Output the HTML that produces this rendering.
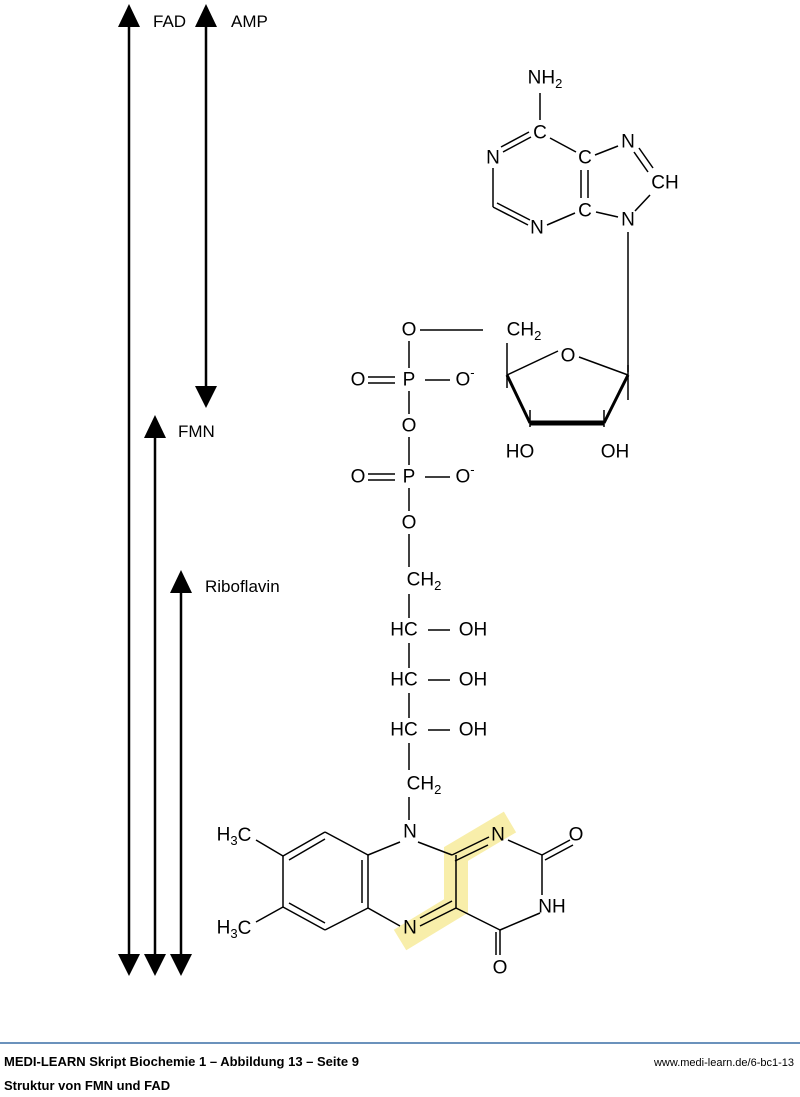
<!DOCTYPE html>
<html><head><meta charset="utf-8"><style>
html,body{margin:0;padding:0;background:#fff;}
svg{display:block;}
text{font-family:"Liberation Sans",Arial,sans-serif;fill:#000;}
.c{font-size:19px;text-anchor:middle;dominant-baseline:central;}
.l{font-size:17px;}
</style></head><body>
<svg width="800" height="1097" viewBox="0 0 800 1097" xmlns="http://www.w3.org/2000/svg">
<!-- highlight -->
<polyline points="400,940 456,906 456,854 510,822" fill="none" stroke="#f8eeaa" stroke-width="24" stroke-linejoin="miter"/>
<g stroke="#000" stroke-width="2.5" fill="none">
<line x1="129" y1="25" x2="129" y2="958"/>
<line x1="206" y1="25" x2="206" y2="388"/>
<line x1="155" y1="435" x2="155" y2="958"/>
<line x1="181" y1="590" x2="181" y2="958"/>
</g>
<g fill="#000">
<polygon points="129,4 118,27 140,27"/>
<polygon points="206,4 195,27 217,27"/>
<polygon points="206,408 195,386 217,386"/>
<polygon points="155,415 144,438 166,438"/>
<polygon points="181,570 170,593 192,593"/>
<polygon points="129,976 118,954 140,954"/>
<polygon points="155,976 144,954 166,954"/>
<polygon points="181,976 170,954 192,954"/>
</g>
<text class="l" x="153" y="27">FAD</text>
<text class="l" x="231" y="27">AMP</text>
<text class="l" x="178" y="437">FMN</text>
<text class="l" x="205" y="592">Riboflavin</text>

<g stroke="#000" stroke-width="1.5" fill="none">
<!-- adenine -->
<line x1="540" y1="93" x2="540" y2="120"/>
<line x1="531" y1="137" x2="503" y2="152"/><line x1="529" y1="132" x2="501" y2="147"/>
<line x1="493" y1="168" x2="493" y2="207"/>
<line x1="493" y1="207" x2="528" y2="225"/><line x1="497" y1="203" x2="530" y2="220"/>
<line x1="547" y1="225" x2="575" y2="213"/>
<line x1="581" y1="170" x2="581" y2="198"/><line x1="588" y1="170" x2="588" y2="198"/>
<line x1="550" y1="138" x2="576" y2="152"/>
<line x1="595" y1="155" x2="618" y2="146"/>
<line x1="634" y1="152" x2="648" y2="172"/><line x1="639" y1="148" x2="653" y2="168"/>
<line x1="650" y1="195" x2="635" y2="211"/>
<line x1="596" y1="212" x2="618" y2="217"/>
<line x1="628" y1="232" x2="628" y2="372"/>
<!-- ribose -->
<line x1="420" y1="330" x2="483" y2="330"/>
<line x1="507" y1="343" x2="507" y2="388"/>
<line x1="507" y1="375" x2="558" y2="351"/>
<line x1="579" y1="357" x2="628" y2="375"/>
<line x1="628" y1="365" x2="628" y2="400"/>
<line x1="530" y1="410" x2="530" y2="427"/>
<line x1="604" y1="410" x2="604" y2="427"/>
<!-- phosphates -->
<line x1="409" y1="341" x2="409" y2="368"/>
<line x1="409" y1="391" x2="409" y2="414"/>
<line x1="409" y1="437" x2="409" y2="465"/>
<line x1="409" y1="488" x2="409" y2="511"/>
<line x1="409" y1="534" x2="409" y2="567"/>
<line x1="368" y1="377" x2="395" y2="377"/><line x1="368" y1="383" x2="395" y2="383"/>
<line x1="368" y1="474" x2="395" y2="474"/><line x1="368" y1="480" x2="395" y2="480"/>
<line x1="425" y1="380" x2="450" y2="380"/>
<line x1="425" y1="477" x2="450" y2="477"/>
<!-- chain -->
<line x1="409" y1="594" x2="409" y2="618"/>
<line x1="409" y1="643" x2="409" y2="668"/>
<line x1="409" y1="693" x2="409" y2="718"/>
<line x1="409" y1="743" x2="409" y2="770"/>
<line x1="409" y1="797" x2="409" y2="820"/>
<line x1="428" y1="630" x2="450" y2="630"/>
<line x1="428" y1="680" x2="450" y2="680"/>
<line x1="428" y1="730" x2="450" y2="730"/>
<!-- flavin -->
<line x1="418" y1="842" x2="452" y2="855"/>
<line x1="452" y1="855" x2="489" y2="837"/><line x1="455" y1="861" x2="488" y2="845"/>
<line x1="508" y1="840" x2="542" y2="855"/>
<line x1="542" y1="855" x2="570" y2="840"/><line x1="545" y1="860" x2="573" y2="845"/>
<line x1="542" y1="855" x2="542" y2="895"/>
<line x1="540" y1="913" x2="500" y2="930"/>
<line x1="500" y1="930" x2="500" y2="955"/><line x1="496" y1="932" x2="496" y2="955"/>
<line x1="500" y1="930" x2="456" y2="908"/>
<line x1="456" y1="855" x2="456" y2="908"/>
<line x1="456" y1="908" x2="420" y2="926"/><line x1="452" y1="901" x2="420" y2="918"/>
<line x1="400" y1="926" x2="368" y2="908"/>
<line x1="400" y1="842" x2="368" y2="855"/>
<line x1="368" y1="855" x2="368" y2="908"/><line x1="362" y1="860" x2="362" y2="903"/>
<line x1="368" y1="855" x2="325" y2="832"/>
<line x1="325" y1="832" x2="283" y2="856"/><line x1="325" y1="839" x2="289" y2="860"/>
<line x1="283" y1="856" x2="283" y2="907"/>
<line x1="283" y1="907" x2="325" y2="930"/><line x1="289" y1="903" x2="325" y2="923"/>
<line x1="325" y1="930" x2="368" y2="908"/>
<line x1="283" y1="856" x2="256" y2="840"/>
<line x1="283" y1="907" x2="256" y2="922"/>
</g>
<line x1="530" y1="423" x2="604" y2="423" stroke="#000" stroke-width="5"/>
<line x1="507" y1="375" x2="530" y2="423" stroke="#000" stroke-width="3"/>
<line x1="628" y1="375" x2="604" y2="423" stroke="#000" stroke-width="3"/>

<g class="c">
<text class="c" x="545" y="78">NH<tspan font-size="13" dy="5">2</tspan></text>
<text class="c" x="540" y="133">C</text>
<text class="c" x="493" y="158">N</text>
<text class="c" x="585" y="158">C</text>
<text class="c" x="628" y="142">N</text>
<text class="c" x="665" y="183">CH</text>
<text class="c" x="585" y="211">C</text>
<text class="c" x="628" y="220">N</text>
<text class="c" x="537" y="228">N</text>
<text class="c" x="524" y="330">CH<tspan font-size="13" dy="5">2</tspan></text>
<text class="c" x="568" y="356">O</text>
<text class="c" x="520" y="452">HO</text>
<text class="c" x="615" y="452">OH</text>
<text class="c" x="409" y="330">O</text>
<text class="c" x="409" y="380">P</text>
<text class="c" x="358" y="380">O</text>
<text class="c" x="465" y="380">O<tspan font-size="13" dy="-8">-</tspan></text>
<text class="c" x="409" y="426">O</text>
<text class="c" x="409" y="477">P</text>
<text class="c" x="358" y="477">O</text>
<text class="c" x="465" y="477">O<tspan font-size="13" dy="-8">-</tspan></text>
<text class="c" x="409" y="523">O</text>
<text class="c" x="424" y="580">CH<tspan font-size="13" dy="5">2</tspan></text>
<text class="c" x="404" y="630">HC</text><text class="c" x="473" y="630">OH</text>
<text class="c" x="404" y="680">HC</text><text class="c" x="473" y="680">OH</text>
<text class="c" x="404" y="730">HC</text><text class="c" x="473" y="730">OH</text>
<text class="c" x="424" y="784">CH<tspan font-size="13" dy="5">2</tspan></text>
<text class="c" x="410" y="832">N</text>
<text class="c" x="498" y="835">N</text>
<text class="c" x="576" y="835">O</text>
<text class="c" x="552" y="907">NH</text>
<text class="c" x="500" y="968">O</text>
<text class="c" x="410" y="928">N</text>
<text class="c" x="234" y="835">H<tspan font-size="13" dy="5">3</tspan><tspan dy="-5">C</tspan></text>
<text class="c" x="234" y="928">H<tspan font-size="13" dy="5">3</tspan><tspan dy="-5">C</tspan></text>
</g>

<line x1="0" y1="1043" x2="800" y2="1043" stroke="#3a6ea5" stroke-width="1.5"/>
<text x="4" y="1066" font-size="13" font-weight="bold">MEDI-LEARN Skript Biochemie 1 – Abbildung 13 – Seite 9</text>
<text x="4" y="1090" font-size="13" font-weight="bold">Struktur von FMN und FAD</text>
<text x="794" y="1066" font-size="11" text-anchor="end">www.medi-learn.de/6-bc1-13</text>
</svg>
</body></html>
